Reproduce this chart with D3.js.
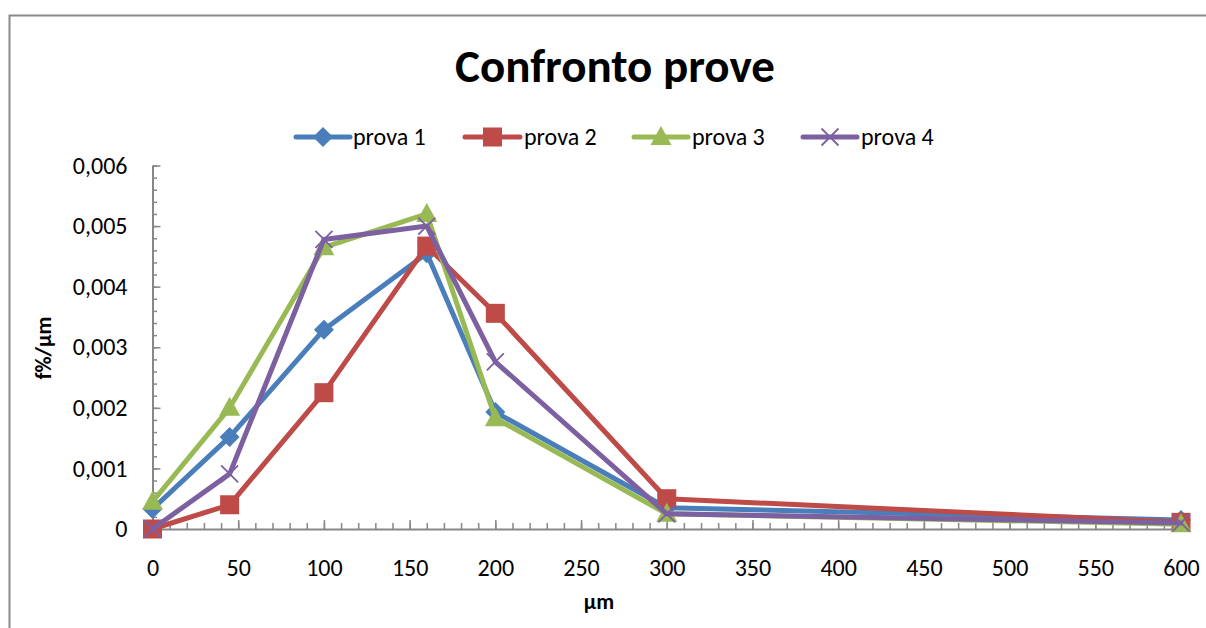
<!DOCTYPE html>
<html>
<head>
<meta charset="utf-8">
<script src="https://cdn.jsdelivr.net/npm/d3@7"></script>
<style>
  html, body { margin: 0; padding: 0; background: #fff; }
  svg { display: block; font-family: Carlito, Calibri, Lato, "Open Sans", sans-serif; }
</style>
</head>
<body>
<svg id="chart" width="1206" height="628"></svg>
<script>
// Sieve sizes (µm) and frequency density per test
const sizes = [0, 45, 100, 160, 200, 300, 600];
const prova1 = [0.00033, 0.00152, 0.00329, 0.00455, 0.00193, 0.00035, 0.00015];
const prova2 = [0.0, 0.0004, 0.00225, 0.00467, 0.00356, 0.0005, 0.00011];
const prova3 = [0.00045, 0.002, 0.00465, 0.0052, 0.00183, 0.00025, 0.00008];
const prova4 = [0.0, 0.00091, 0.00478, 0.005, 0.00276, 0.00025, 0.0001];
const seriesNames = ["prova 1", "prova 2", "prova 3", "prova 4"];
const xTicks = [0, 50, 100, 150, 200, 250, 300, 350, 400, 450, 500, 550, 600];
const yTicks = [0, 0.001, 0.002, 0.003, 0.004, 0.005, 0.006];

const colors = ["#4A7EBB", "#BE4B48", "#98B954", "#7D60A0"];
const markerTypes = ["diamond", "square", "triangle", "cross"];
const seriesValues = [prova1, prova2, prova3, prova4];

const svg = d3.select("#chart");

// Chart area frame
svg.append("rect")
  .attr("x", 9.5).attr("y", 15.5)
  .attr("width", 1220).attr("height", 640)
  .attr("fill", "none").attr("stroke", "#8a8a8a").attr("stroke-width", 2);

const x = d3.scaleLinear().domain([0, 600]).range([152.5, 1181]);
const y = d3.scaleLinear().domain([0, 0.006]).range([529, 165.5]);

const it = d3.formatLocale({ decimal: ",", thousands: ".", grouping: [3], currency: ["", "€"] });
const yFmt = d => d === 0 ? "0" : it.format(".3f")(d);

const axisColor = "#878787";

// Minor ticks
svg.append("g")
  .attr("transform", `translate(0,${y(0)})`)
  .call(d3.axisBottom(x).tickValues(d3.range(0, 601, 10)).tickSize(-6).tickFormat(""))
  .call(g => g.select(".domain").remove())
  .call(g => g.selectAll("line").attr("stroke", axisColor).attr("stroke-width", 1.5));

svg.append("g")
  .attr("transform", `translate(${x(0)},0)`)
  .call(d3.axisLeft(y).tickValues(d3.range(0, 0.00601, 0.0002)).tickSize(-4.5).tickFormat(""))
  .call(g => g.select(".domain").remove())
  .call(g => g.selectAll("line").attr("stroke", axisColor).attr("stroke-width", 1.5));

// Major axes
const xAxis = svg.append("g")
  .attr("transform", `translate(0,${y(0)})`)
  .call(d3.axisBottom(x).tickValues(xTicks).tickSize(-9).tickSizeOuter(0).tickPadding(30));
const yAxis = svg.append("g")
  .attr("transform", `translate(${x(0)},0)`)
  .call(d3.axisLeft(y).tickValues(yTicks).tickSize(-8).tickSizeOuter(0).tickPadding(25).tickFormat(yFmt));

[xAxis, yAxis].forEach(g => {
  g.select(".domain").attr("stroke", axisColor).attr("stroke-width", 2);
  g.selectAll(".tick line").attr("stroke", axisColor).attr("stroke-width", 1.5);
  g.selectAll(".tick text")
    .attr("fill", "#000")
    .style("font-size", "24px")
    .style("font-family", "Carlito, Calibri, Lato, sans-serif");
});

// Titles
svg.append("text")
  .attr("x", 615).attr("y", 82)
  .attr("text-anchor", "middle")
  .style("font-size", "47px").style("font-weight", "bold")
  .text("Confronto prove");

svg.append("text")
  .attr("x", 599).attr("y", 609)
  .attr("text-anchor", "middle")
  .style("font-size", "22px").style("font-weight", "bold")
  .text("µm");

svg.append("text")
  .attr("transform", "translate(51,348) rotate(-90)")
  .attr("text-anchor", "middle")
  .style("font-size", "22px").style("font-weight", "bold")
  .text("f%/µm");

// Marker drawing helper
function drawMarker(g, type, cx, cy, color) {
  if (type === "cross") {
    const r = 8.5;
    g.append("path")
      .attr("d", `M${cx - r},${cy - r}L${cx + r},${cy + r}M${cx - r},${cy + r}L${cx + r},${cy - r}`)
      .attr("stroke", color).attr("stroke-width", 1.8).attr("fill", "none");
  } else if (type === "diamond") {
    const r = 10;
    g.append("path")
      .attr("d", `M${cx},${cy - r}L${cx + r},${cy}L${cx},${cy + r}L${cx - r},${cy}Z`)
      .attr("fill", color);
  } else if (type === "square") {
    const h = 9.5;
    g.append("rect")
      .attr("x", cx - h).attr("y", cy - h).attr("width", 2 * h).attr("height", 2 * h)
      .attr("fill", color);
  } else {
    const hw = 10.5, top = 11, bot = 8;
    g.append("path")
      .attr("d", `M${cx},${cy - top}L${cx + hw},${cy + bot}L${cx - hw},${cy + bot}Z`)
      .attr("fill", color);
  }
}

// Series lines and markers
const line = d3.line().x((d, i) => x(sizes[i])).y(d => y(d));
seriesValues.forEach((vals, k) => {
  const g = svg.append("g");
  g.append("path")
    .datum(vals)
    .attr("d", line)
    .attr("fill", "none")
    .attr("stroke", colors[k])
    .attr("stroke-width", 5)
    .attr("stroke-linejoin", "round")
    .attr("stroke-linecap", "round");
  vals.forEach((v, i) => drawMarker(g, markerTypes[k], x(sizes[i]), y(v), colors[k]));
});

// Legend
const legendItems = [
  { x0: 296, x1: 350, tx: 353 },
  { x0: 465, x1: 520, tx: 524 },
  { x0: 634, x1: 688, tx: 692 },
  { x0: 803, x1: 857, tx: 861 }
];
const ly = 137;
legendItems.forEach((it2, k) => {
  const g = svg.append("g");
  g.append("line")
    .attr("x1", it2.x0).attr("x2", it2.x1).attr("y1", ly).attr("y2", ly)
    .attr("stroke", colors[k]).attr("stroke-width", 5).attr("stroke-linecap", "round");
  drawMarker(g, markerTypes[k], (it2.x0 + it2.x1) / 2, ly, colors[k]);
  g.append("text")
    .attr("x", it2.tx).attr("y", ly).attr("dy", "0.35em")
    .style("font-size", "24px")
    .text(seriesNames[k]);
});
</script>
</body>
</html>
